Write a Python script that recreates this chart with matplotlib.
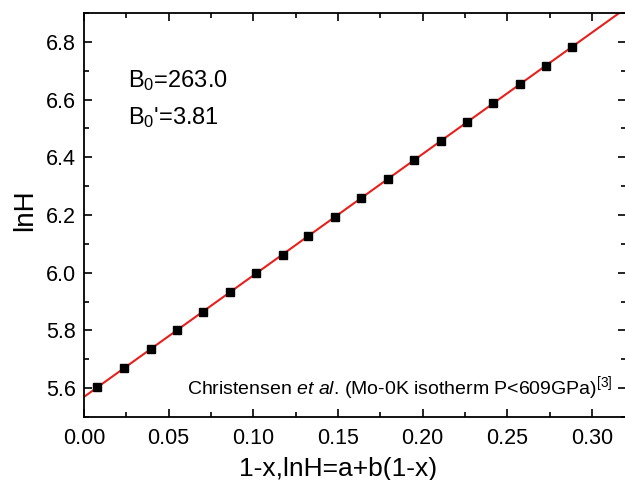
import numpy as np
import matplotlib
matplotlib.use("Agg")
import matplotlib.pyplot as plt
from matplotlib.ticker import MultipleLocator, FormatStrFormatter

# values
one_minus_x = [0.0075, 0.0237, 0.0393, 0.0552, 0.0704, 0.0862, 0.1018, 0.1173,
               0.1324, 0.1481, 0.1637, 0.1793, 0.1950, 0.2106, 0.2260, 0.2416,
               0.2572, 0.2728, 0.2883]
lnH = [5.6045, 5.6685, 5.7346, 5.8007, 5.8654, 5.9315, 5.9976, 6.0626,
       6.1287, 6.1948, 6.2584, 6.3259, 6.3906, 6.4557, 6.5207, 6.5868,
       6.6529, 6.7176, 6.7837]
b0_text = "B$_0$=263.0"
b0p_text = "B$_0$'=3.81"
ref_text = "Christensen $\\it{et\\ al}$. (Mo-0K isotherm P<609GPa)$^{[3]}$"

plt.rcParams['font.family'] = ['Liberation Sans', 'DejaVu Sans']
plt.rcParams['mathtext.fontset'] = 'custom'
plt.rcParams['mathtext.rm'] = 'Liberation Sans'
plt.rcParams['mathtext.it'] = 'Liberation Sans:italic'

fig = plt.figure(figsize=(6.25, 4.8), dpi=100)
ax = fig.add_axes([84 / 625, 63 / 480, 542 / 625, 404 / 480])

# linear fit lnH = a + b(1-x)
b, a = np.polyfit(one_minus_x, lnH, 1)
xf = np.linspace(0, 0.32, 50)
ax.plot(xf, a + b * xf, color='#e8201c', linewidth=1.5, zorder=2)
ax.plot(one_minus_x, lnH, 's', color='black', markersize=6, zorder=3)

ax.set_xlim(0, 0.32)
ax.set_ylim(5.5, 6.9)
ax.xaxis.set_major_locator(MultipleLocator(0.05))
ax.xaxis.set_minor_locator(MultipleLocator(0.025))
ax.yaxis.set_major_locator(MultipleLocator(0.2))
ax.yaxis.set_minor_locator(MultipleLocator(0.1))
ax.xaxis.set_major_formatter(FormatStrFormatter('%.2f'))
ax.yaxis.set_major_formatter(FormatStrFormatter('%.1f'))
ax.tick_params(which='both', direction='in', top=True, right=True, labelsize=15.5, width=1.2)
ax.tick_params(which='major', length=6)
ax.tick_params(axis='x', pad=8)
ax.tick_params(axis='y', pad=6)
ax.tick_params(which='minor', length=3.5)
for s in ax.spines.values():
    s.set_linewidth(1.3)

ax.set_xlabel("1-x,lnH=a+b(1-x)", fontsize=19)
ax.xaxis.set_label_coords(0.468, -0.098)
ax.set_ylabel("lnH", fontsize=20)
ax.yaxis.set_label_coords(-0.085, 0.512)

ax.text(0.026, 6.643, b0_text, fontsize=17)
ax.text(0.026, 6.515, b0p_text, fontsize=17)
ax.text(0.061, 5.6, ref_text, fontsize=14, va='center')

fig.savefig("out.png", dpi=100)
